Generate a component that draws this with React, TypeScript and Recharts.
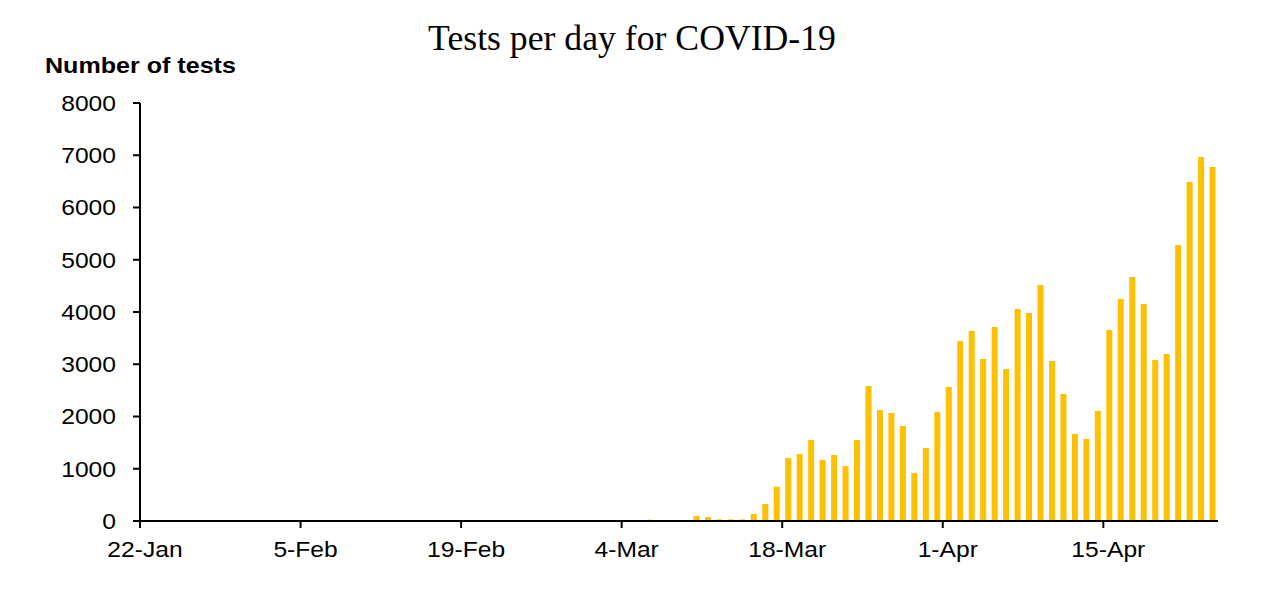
import { Bar, BarChart, XAxis, YAxis } from 'recharts';

// first day shown on the axis, one bar per day
const START_DAY = { year: 2020, month: 0, day: 22 };
const MONTHS = ['Jan', 'Feb', 'Mar', 'Apr', 'May', 'Jun', 'Jul', 'Aug', 'Sep', 'Oct', 'Nov', 'Dec'];

const tests = [
  0, 0, 0, 0, 0, 0, 0, 0, 0, 0,
  0, 0, 0, 0, 0, 0, 0, 0, 0, 0,
  0, 0, 0, 0, 0, 0, 0, 0, 0, 0,
  0, 0, 0, 0, 0, 0, 0, 0, 0, 0,
  0, 0, 0, 0, 25, 0, 0, 0, 95, 75,
  30, 30, 30, 135, 325, 655, 1205, 1282, 1550, 1167,
  1263, 1052, 1550, 2584, 2124, 2067, 1818, 919, 1397, 2086,
  2565, 3445, 3636, 3100, 3713, 2909, 4057, 3981, 4517, 3062,
  2431, 1665, 1569, 2105, 3655, 4249, 4670, 4153, 3081, 3196,
  5282, 6488, 6967, 6775,
];

const xTicks = [0, 14, 28, 42, 56, 70, 84];
const yTicks = [0, 1000, 2000, 3000, 4000, 5000, 6000, 7000, 8000];

function dayLabel(offset: number): string {
  const date = new Date(START_DAY.year, START_DAY.month, START_DAY.day + offset);
  return `${date.getDate()}-${MONTHS[date.getMonth()]}`;
}

const dates = tests.map((_value, index) => dayLabel(index));

const chartData = tests.map((value, index) => ({
  pos: index + 0.5,
  date: dates[index],
  tests: value,
}));

const sans = '"Liberation Sans", Arial, sans-serif';

// the source image is a little wider than tall, so labels get stretched sideways
const STRETCH = 1.12;

type TickProps = {
  x?: number;
  y?: number;
  payload?: { value: number };
};

function DateTick({ x = 0, y = 0, payload }: TickProps) {
  return (
    <g transform={`translate(${x + 5},${y})`}>
      <text
        transform={`scale(${STRETCH},1)`}
        textAnchor="middle"
        dy="0.71em"
        fill="#000"
        fontSize={22}
        fontFamily={sans}
      >
        {dates[payload?.value ?? 0]}
      </text>
    </g>
  );
}

function CountTick({ x = 0, y = 0, payload }: TickProps) {
  return (
    <g transform={`translate(${x},${y})`}>
      <text
        transform={`scale(${STRETCH},1)`}
        textAnchor="end"
        dy="0.355em"
        fill="#000"
        fontSize={22}
        fontFamily={sans}
      >
        {payload?.value}
      </text>
    </g>
  );
}

export default function App() {
  return (
    <div style={{ position: 'absolute', left: 0, top: 0, width: 1264, height: 597, background: '#fff' }}>
      <div
        style={{
          position: 'absolute',
          left: 0,
          width: 1264,
          top: 20,
          textAlign: 'center',
          fontFamily: '"Liberation Serif", "Times New Roman", serif',
          fontSize: 35.7,
          lineHeight: '36px',
          color: '#000',
        }}
      >
        Tests per day for COVID-19
      </div>
      <div
        style={{
          position: 'absolute',
          left: 45,
          top: 55,
          fontFamily: sans,
          fontWeight: 'bold',
          fontSize: 22,
          lineHeight: '22px',
          color: '#000',
          transform: `scaleX(${STRETCH + 0.02})`,
          transformOrigin: 'left top',
          whiteSpace: 'nowrap',
        }}
      >
        Number of tests
      </div>
      <BarChart
        width={1264}
        height={597}
        data={chartData}
        margin={{ top: 103, right: 46, bottom: 36, left: 80 }}
        barCategoryGap={0}
      >
        <XAxis
          dataKey="pos"
          type="number"
          domain={[0, tests.length]}
          ticks={xTicks}
          height={40}
          axisLine={{ stroke: '#000', strokeWidth: 2 }}
          tickLine={{ stroke: '#000', strokeWidth: 2 }}
          tickSize={7}
          tickMargin={13}
          tick={<DateTick />}
          interval={0}
        />
        <YAxis
          domain={[0, 8000]}
          ticks={yTicks}
          width={60}
          axisLine={{ stroke: '#000', strokeWidth: 2 }}
          tickLine={{ stroke: '#000', strokeWidth: 2 }}
          tickSize={7}
          tickMargin={17}
          tick={<CountTick />}
          interval={0}
        />
        <Bar dataKey="tests" fill="#FFC000" barSize={6} isAnimationActive={false} />
      </BarChart>
    </div>
  );
}
